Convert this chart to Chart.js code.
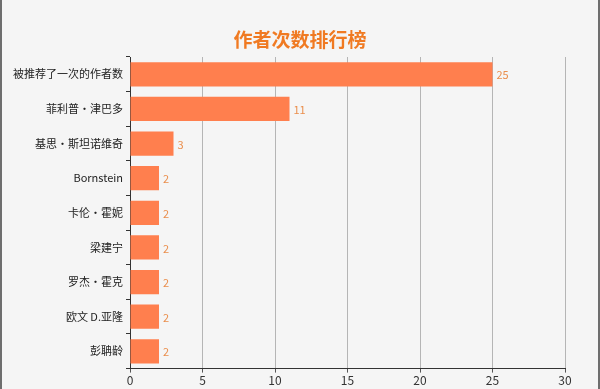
<!DOCTYPE html>
<html>
<head>
<meta charset="utf-8">
<script src="https://cdn.jsdelivr.net/npm/chart.js@4/dist/chart.umd.min.js"></script>
<style>
  html, body { margin: 0; padding: 0; background: #f5f5f5; }
  body { width: 600px; height: 389px; box-sizing: border-box; border-left: 2px solid #6e6e6e; border-right: 2px solid #6e6e6e; overflow: hidden; }
  canvas { display: block; }
</style>
</head>
<body>
<canvas id="chart" width="596" height="389"></canvas>
<script>
// author ranking data
const authors = ['被推荐了一次的作者数', '菲利普·津巴多', '基思·斯坦诺维奇', 'Bornstein', '卡伦·霍妮', '梁建宁', '罗杰•霍克', '欧文 D.亚隆', '彭聃龄'];
const counts = [25, 11, 3, 2, 2, 2, 2, 2, 2];
const xTicks = [0, 5, 10, 15, 20, 25, 30];
const chartTitle = '作者次数排行榜';

const fontFamily = '"Noto Sans CJK SC", "Noto Sans", sans-serif';

// title centred on the whole canvas, plus the value at the end of each bar
const extras = {
  id: 'extras',
  afterDatasetsDraw(chart) {
    const ctx = chart.ctx;
    const meta = chart.getDatasetMeta(0);
    ctx.save();
    ctx.font = 'bold 19px ' + fontFamily;
    ctx.fillStyle = '#f07a22';
    ctx.textAlign = 'center';
    ctx.textBaseline = 'middle';
    ctx.fillText(chartTitle, chart.width / 2, 40);

    ctx.font = '11px ' + fontFamily;
    ctx.fillStyle = '#ea8e4c';
    ctx.textAlign = 'left';
    meta.data.forEach((bar, i) => {
      ctx.fillText(String(counts[i]), bar.x + 4, bar.y + 1);
    });
    ctx.restore();
  }
};

new Chart(document.getElementById('chart'), {
  type: 'bar',
  data: {
    labels: authors,
    datasets: [{
      data: counts,
      backgroundColor: '#ff7f4e',
      borderWidth: 0,
      categoryPercentage: 0.7,
      barPercentage: 1.0
    }]
  },
  options: {
    indexAxis: 'y',
    responsive: false,
    animation: false,
    layout: { padding: { left: 0, right: 33, top: 57, bottom: 0 } },
    plugins: {
      legend: { display: false },
      tooltip: { enabled: false },
      title: { display: false }
    },
    scales: {
      x: {
        min: 0,
        max: 30,
        afterBuildTicks: axis => { axis.ticks = xTicks.map(v => ({ value: v })); },
        border: { color: '#333', width: 1 },
        grid: { color: '#b5b5b5', tickLength: 4, tickColor: '#555' },
        ticks: { color: '#333', padding: 1, font: { family: fontFamily, size: 12 } }
      },
      y: {
        afterFit: axis => { axis.width = 128; },
        border: { color: '#333', width: 1 },
        grid: { drawOnChartArea: false, offset: true, tickLength: 4, color: '#333' },
        ticks: { color: '#222', padding: 3, autoSkip: false, font: { family: fontFamily, size: 11 } }
      }
    }
  },
  plugins: [extras]
});
</script>
</body>
</html>
